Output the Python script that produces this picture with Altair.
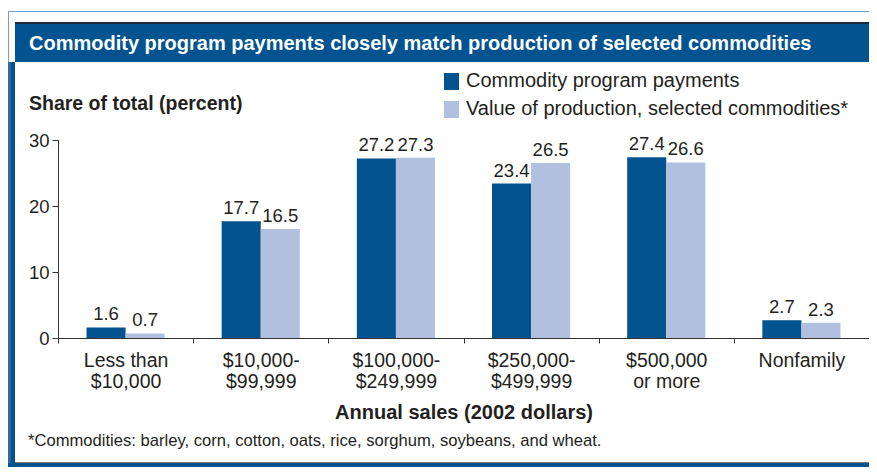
import altair as alt
import pandas as pd

categories = ["Less than|$10,000", "$10,000-|$99,999", "$100,000-|$249,999",
              "$250,000-|$499,999", "$500,000|or more", "Nonfamily"]
series = ["Commodity program payments", "Value of production, selected commodities*"]
payments = [1.6, 17.7, 27.2, 23.4, 27.4, 2.7]
production = [0.7, 16.5, 27.3, 26.5, 26.6, 2.3]
y_ticks = [0, 10, 20, 30]

title_text = "Commodity program payments closely match production of selected commodities"
y_title = "Share of total (percent)"
x_title = "Annual sales (2002 dollars)"
footnote = "*Commodities: barley, corn, cotton, oats, rice, sorghum, soybeans, and wheat."

DARK = "#02538f"
LIGHT = "#b0c0de"
FONT = "Liberation Sans"
INK = "#231f20"

rows = []
for c, a, b in zip(categories, payments, production):
    rows.append({"cat": c, "series": series[0], "value": a})
    rows.append({"cat": c, "series": series[1], "value": b})
df = pd.DataFrame(rows)

one = pd.DataFrame({"k": [0]})

def rect(x, x2, y, y2, color):
    return alt.Chart(one).mark_rect(color=color, clip=False).encode(
        x=alt.value(x), x2=alt.value(x2), y=alt.value(y), y2=alt.value(y2))

def label(txt, x, y, size, weight="normal", color=INK, align="left"):
    return alt.Chart(one).mark_text(
        text=txt, font=FONT, fontSize=size, fontWeight=weight, color=color,
        align=align, baseline="middle", clip=False).encode(
        x=alt.value(x), y=alt.value(y))

xenc = alt.X("cat:N", sort=categories, title=x_title,
             scale=alt.Scale(paddingInner=0, paddingOuter=0),
             axis=alt.Axis(labelExpr="split(datum.label, '|')", labelAngle=0,
                           labelFontSize=19.5, labelLineHeight=21, labelPadding=8,
                           labelColor=INK, labelFont=FONT,
                           tickBand="extent", tickSize=5, tickColor="#333",
                           domainColor="#333", titleFont=FONT, titleFontSize=20,
                           titleFontWeight="bold", titleColor=INK,
                           titlePadding=12))

xoff = alt.XOffset("series:N", sort=series,
                   scale=alt.Scale(paddingInner=0, paddingOuter=0.73))

bars = alt.Chart(df).mark_bar().encode(
    x=xenc,
    xOffset=xoff,
    y=alt.Y("value:Q", title=None,
            scale=alt.Scale(domain=[0, 30], nice=False),
            axis=alt.Axis(values=y_ticks, grid=False, tickSize=6, labelPadding=3,
                          labelFontSize=18.5, labelFont=FONT, labelColor=INK,
                          tickColor="#333", domainColor="#333")),
    color=alt.Color("series:N", sort=series,
                    scale=alt.Scale(domain=series, range=[DARK, LIGHT]),
                    legend=None),
)

texts = alt.Chart(df).mark_text(baseline="bottom", dy=-3, fontSize=18.5, font=FONT,
                                color=INK).encode(
    x=alt.X("cat:N", sort=categories),
    xOffset=xoff,
    y="value:Q",
    text=alt.Text("value:Q", format=".1f"),
)

deco = [
    rect(-50, 811, -129, -128, "#6f9fcc"),
    rect(-50, -49, -129, -78, "#6f9fcc"),
    rect(-43, 811, -118, -116, "#1d2b3c"),
    rect(-43, 811, -116, -78, DARK),
    rect(-50, -43, -78, 327, DARK),
    rect(-50, -47, -78, 327, "#2f6aa6"),
    rect(-43, 811, 322, 323, "#7a7a7a"),
    rect(-50, 811, 323, 327, DARK),
    # legend swatches
    rect(386, 401, -67, -50, DARK),
    rect(386, 401, -39, -22, LIGHT),
]

texts_extra = [
    label(title_text, -29, -96, 20, "bold", "white"),
    label(y_title, -29, -36, 19.5, "bold"),
    label(footnote, -30, 301, 16.6),
    label(series[0], 408, -59, 20),
    label(series[1], 408, -31, 20),
]

chart = alt.layer(*deco, bars, texts, *texts_extra).properties(
    width=811, height=198,
    autosize=alt.AutoSizeParams(type="none"),
    padding={"left": 50, "top": 132, "right": 0, "bottom": 129},
    background="white",
).configure_view(stroke=None)

chart.save("out.html", embed_options={"renderer": "svg", "actions": False})
